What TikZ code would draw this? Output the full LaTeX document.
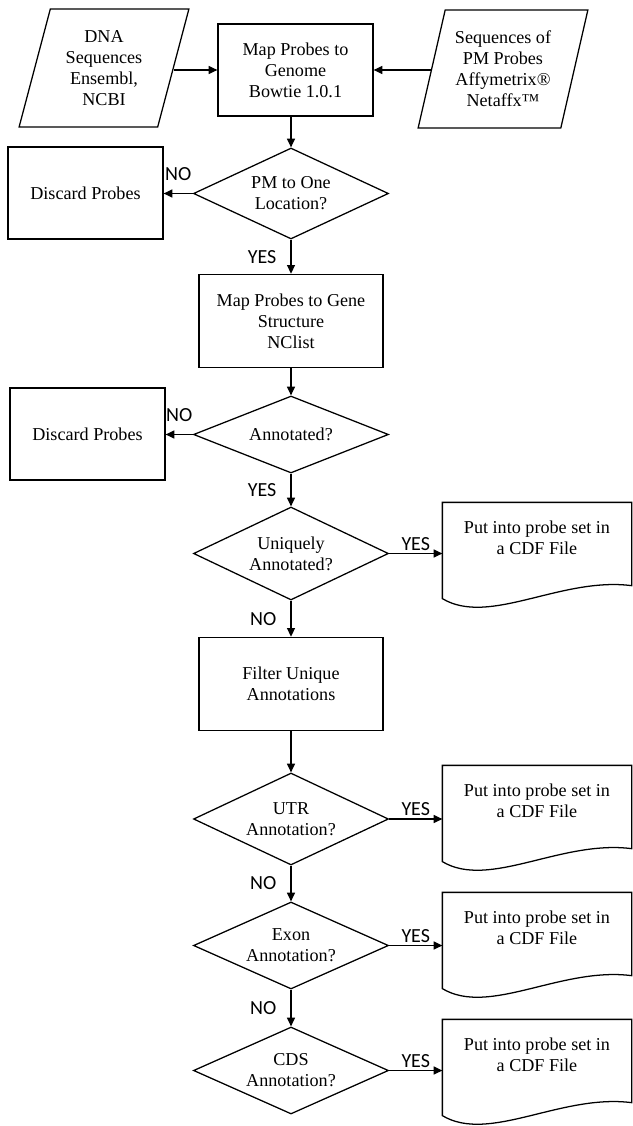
\documentclass[tikz,border=0pt]{standalone}
\usepackage{fontspec}
\setmainfont{Liberation Serif}
\newfontfamily\labelfont{Carlito}
\usetikzlibrary{shapes.geometric}
\usetikzlibrary{arrows.meta}
\usetikzlibrary{calc}

% outline of a document shape around a (not drawn) node
\newcommand{\docoutline}[1]{%
  \draw (#1.north west) -- (#1.north east) -- ($(#1.south east)+(0,12)$)
    .. controls ($(#1.south east)+(-71,3)$) and ($(#1.south west)+(47,53)$) .. ($(#1.south west)+(0,25)$) -- cycle ;}

\begin{document}
\begin{tikzpicture}[x=0.75pt,y=0.75pt,yscale=-1,xscale=1,
  line width=0.95pt,
  every node/.style={font=\fontsize{13.6}{15.75}\selectfont, align=center},
  procbox/.style={draw, rectangle, minimum width=116.25pt, minimum height=69pt, inner sep=1pt},
  widebox/.style={procbox, minimum width=138pt, minimum height=70pt},
  iobox/.style={draw, trapezium, trapezium left angle=73.5, trapezium right angle=106.5, trapezium stretches=true, minimum width=127.5pt, minimum height=88.5pt, inner sep=0pt},
  decision/.style={draw, diamond, shape aspect=2.2, inner sep=0pt, minimum width=146.25pt},
  docbox/.style={rectangle, minimum width=141pt, minimum height=52.5pt, inner sep=0pt},
  lbl/.style={font=\labelfont\fontsize{15}{18}\selectfont, inner sep=2pt},
  arr/.style={-{Triangle[length=6.5pt, width=6pt]}}]
\useasboundingbox (0,0) rectangle (632,1126);

%Shape: Parallelogram
\node[iobox] (dna) at (104,68) {DNA\\Sequences\\Ensembl,\\NCBI};
%Shape: Rectangle
\node[procbox] (genome) at (295.5,70) {Map Probes to\\Genome\\Bowtie 1.0.1};
%Shape: Parallelogram
\node[iobox] (affy) at (503,69) {Sequences of\\PM Probes\\Affymetrix®\\Netaffx™};

%Shape: Diamond
\node[decision, minimum height=68.25pt] (onepos) at (291,193.5) {PM to One\\Location?};
\node[procbox] (drop1) at (85.5,193) {Discard Probes};

\node[widebox] (genestr) at (291,321) {Map Probes to Gene\\Structure\\NClist};
\node[decision, minimum height=57.75pt] (annot) at (291,434.5) {Annotated?};
\node[procbox] (drop2) at (87.5,434) {Discard Probes};

\node[decision, minimum height=69.75pt] (uniq) at (291,553.5) {Uniquely\\Annotated?};
\node[widebox] (filter) at (291,684) {Filter Unique\\Annotations};

\node[decision, minimum height=69pt] (utr) at (291,819) {UTR\\Annotation?};
\node[decision, minimum height=65.25pt] (exon) at (291,945.5) {Exon\\Annotation?};
\node[decision, minimum height=65.25pt] (cds) at (291,1070.5) {CDS\\Annotation?};

%Shape: Document
\node[docbox] (cdf1) at (537,538) {Put into probe set in\\a CDF File};
\node[docbox] (cdf2) at (537,801) {Put into probe set in\\a CDF File};
\node[docbox] (cdf3) at (537,928) {Put into probe set in\\a CDF File};
\node[docbox] (cdf4) at (537,1055) {Put into probe set in\\a CDF File};
\docoutline{cdf1}
\docoutline{cdf2}
\docoutline{cdf3}
\docoutline{cdf4}

%Straight Lines
\draw[arr] (dna.east |- genome.west) -- (genome.west);
\draw[arr] (affy.west |- genome.east) -- (genome.east);
\draw[arr] (genome.south -| onepos.north) -- (onepos.north);
\draw[arr] (onepos.west) -- (onepos.west -| drop1.east) node[lbl, midway, above=7pt] (no1) {NO};
\draw[arr] (onepos.south) -- (genestr.north) node[lbl, midway, left=8.5pt] (yes1) {YES};
\draw[arr] (genestr.south) -- (annot.north);
\draw[arr] (annot.west) -- (annot.west -| drop2.east) node[lbl, midway, above=7pt] (no2) {NO};
\draw[arr] (annot.south) -- (uniq.north) node[lbl, midway, left=8.5pt] (yes2) {YES};
\draw[arr] (uniq.east) -- (uniq.east -| cdf1.west) node[lbl, midway, above] (yes3) {YES};
\draw[arr] (uniq.south) -- (filter.north) node[lbl, midway, left=8.5pt] (no3) {NO};
\draw[arr] (filter.south) -- (utr.north);
\draw[arr] (utr.east) -- (utr.east -| cdf2.west) node[lbl, midway, above] (yes4) {YES};
\draw[arr] (utr.south) -- (exon.north) node[lbl, midway, left=8.5pt] (no4) {NO};
\draw[arr] (exon.east) -- (exon.east -| cdf3.west) node[lbl, midway, above] (yes5) {YES};
\draw[arr] (exon.south) -- (cds.north) node[lbl, midway, left=8.5pt] (no5) {NO};
\draw[arr] (cds.east) -- (cds.east -| cdf4.west) node[lbl, midway, above] (yes6) {YES};

\end{tikzpicture}
\end{document}
